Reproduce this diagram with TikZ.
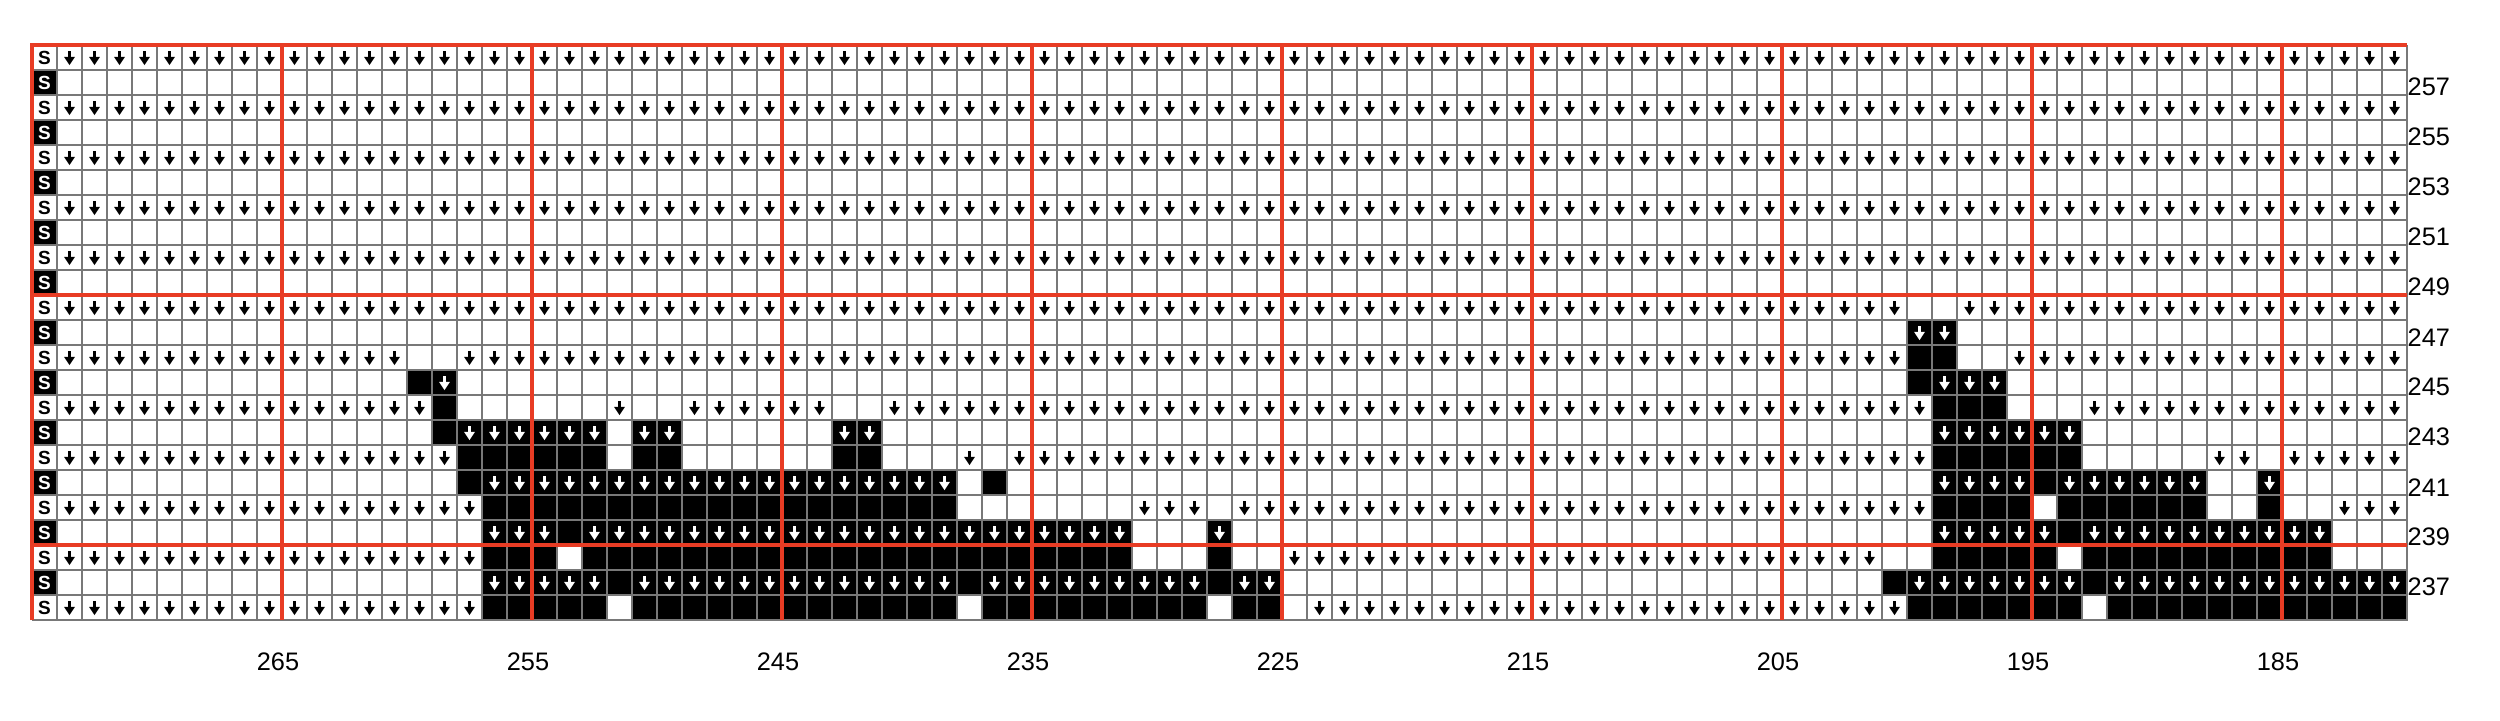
\documentclass[tikz,border=0pt]{standalone}
\usepackage{fontspec}
\setmainfont{Liberation Sans}
\definecolor{gridgray}{RGB}{120,120,120}
\definecolor{chartred}{RGB}{232,60,36}
\newcount\cellcol
\newcommand\chartarrow[3]{%
  \fill[#3] (#1-1.8,#2-6.8) rectangle (#1+1.8,#2+0.5);
  \fill[#3] (#1-5.4,#2-0.6) -- (#1+5.4,#2-0.6) -- (#1,#2+7.6) -- cycle;}
\newcommand\chartcell[3]{%
  \pgfmathsetmacro\cellx{44.5+25*#2}%
  \pgfmathsetmacro\celly{32.5+25*#1}%
  \if#3K\fill[black] (\cellx-12.5,\celly-12.5) rectangle (\cellx+12.5,\celly+12.5);\fi
  \if#3B\fill[black] (\cellx-12.5,\celly-12.5) rectangle (\cellx+12.5,\celly+12.5);\chartarrow{\cellx}{\celly}{white}\fi
  \if#3a\chartarrow{\cellx}{\celly}{black}\fi}
\newcommand\chartrow[2]{%
  \global\cellcol=0
  \foreach \nrun/\ccode in {#2}{%
    \foreach \kk in {1,...,\nrun}{%
      \global\advance\cellcol by 1
      \edef\curcol{\the\cellcol}%
      \chartcell{#1}{\curcol}{\ccode}%
    }%
  }%
}
\tikzset{
  gridline/.style={draw=gridgray,line width=0.42pt},
  redline/.style={draw=chartred,line width=1.05pt},
  rowlabel/.style={anchor=west,inner sep=0pt,font=\fontsize{7.2}{8}\selectfont},
  collabel/.style={anchor=center,inner sep=0pt,font=\fontsize{7.2}{8}\selectfont},
  slight/.style={inner sep=0pt,font=\fontsize{5.4}{6}\selectfont\bfseries,text=black},
  sdark/.style={inner sep=0pt,font=\fontsize{5.4}{6}\selectfont\bfseries,text=white},
}
\begin{document}
\begin{tikzpicture}[x=0.01cm,y=-0.01cm]
\useasboundingbox (0,0) rectangle (2500,720);
\fill[white] (0,0) rectangle (2500,720);
% upper section rows 258..249
\foreach \r in {1,3,5,7,9}{\chartrow{\r}{94/a}}
% lower section rows 248..236
\chartrow{11}{74/a,2/.,18/a}
\chartrow{12}{74/.,2/B,18/.}
\chartrow{13}{14/a,2/.,58/a,2/K,2/.,16/a}
\chartrow{14}{14/.,1/K,1/B,58/.,1/K,3/B,16/.}
\chartrow{15}{15/a,1/K,6/.,1/a,2/.,6/a,2/.,42/a,3/K,3/.,13/a}
\chartrow{16}{15/.,1/K,6/B,1/.,2/B,6/.,2/B,42/.,6/B,13/.}
\chartrow{17}{16/a,6/K,1/.,2/K,6/.,2/K,3/.,1/a,1/.,37/a,6/K,5/.,2/a,1/.,5/a}
\chartrow{18}{16/.,1/K,19/B,1/.,1/K,37/.,4/B,1/K,6/B,2/.,1/B,5/.}
\chartrow{19}{17/a,19/K,7/.,3/a,1/.,28/a,4/K,1/.,6/K,2/.,1/K,2/.,3/a}
\chartrow{20}{17/.,3/B,1/K,22/B,3/.,1/B,28/.,5/B,1/K,10/B,3/.}
\chartrow{21}{17/a,3/K,1/.,22/K,3/.,1/K,2/.,24/a,2/.,5/K,1/.,10/K,3/.}
\chartrow{22}{17/.,5/B,1/K,13/B,1/K,9/B,1/K,2/B,24/.,1/K,7/B,1/K,12/B}
\chartrow{23}{17/a,5/K,1/.,13/K,1/.,9/K,1/.,2/K,1/.,24/a,7/K,1/.,12/K}
% S column
\foreach \r in {1,3,...,23}{\node[slight] (s\r) at (44.5,{32.5+25*\r}) {S};}
\foreach \r in {2,4,...,22}{%
  \fill[black] (32,{20+25*\r}) rectangle (57,{45+25*\r});
  \node[sdark] (s\r) at (44.5,{32.5+25*\r}) {S};}
% grid lines
\foreach \c in {1,...,94}{\draw[gridline] ({32+25*\c},45) -- ({32+25*\c},620);}
\foreach \r in {1,...,22}{\draw[gridline] (32,{45+25*\r}) -- (2407,{45+25*\r});}
\draw[draw=gridgray,line width=0.6pt] (2407,45) -- (2407,620) -- (32,620);
% red lines
\foreach \k in {0,...,8}{\draw[redline] ({282+250*\k},45) -- ({282+250*\k},620);}
\draw[redline] (32,295) -- (2407,295);
\draw[redline] (32,545) -- (2407,545);
\draw[redline] (32,620) -- (32,45) -- (2407,45);
% labels
\foreach \r in {2,4,...,22}{%
  \pgfmathtruncatemacro\lab{259-\r}%
  \node[rowlabel] (rl\lab) at (2407,{37.2+25*\r}) {\lab};}
\foreach \k in {0,...,8}{%
  \pgfmathtruncatemacro\lab{265-10*\k}%
  \node[collabel] (cl\lab) at ({278+250*\k},662) {\lab};}
\end{tikzpicture}
\end{document}
